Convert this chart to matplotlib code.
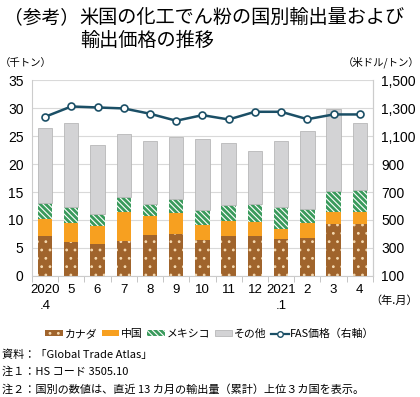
import matplotlib
matplotlib.use("Agg")
import matplotlib.pyplot as plt
import numpy as np
from matplotlib.ticker import FuncFormatter, MultipleLocator
from matplotlib.patches import Patch
from matplotlib.lines import Line2D

plt.rcParams['font.family'] = ['Noto Sans CJK JP', 'DejaVu Sans']
plt.rcParams['hatch.linewidth'] = 0.8

# data (thousand tonnes, USD/tonne)
months = ["2020\n.4", "5", "6", "7", "8", "9", "10", "11", "12", "2021\n.1", "2", "3", "4"]
canada = [7.1, 6.0, 5.7, 6.25, 7.4, 7.55, 6.4, 7.1, 7.1, 6.6, 6.8, 9.2, 9.3]
china = [3.1, 3.5, 3.2, 5.15, 3.25, 3.7, 2.65, 2.8, 2.5, 1.85, 2.7, 2.3, 2.2]
mexico = [2.8, 2.8, 2.2, 2.8, 2.25, 2.55, 2.65, 2.7, 3.3, 3.95, 2.5, 3.6, 3.9]
other = [13.5, 15.1, 12.3, 11.2, 11.2, 11.0, 12.7, 11.1, 9.4, 11.7, 13.9, 14.8, 12.0]
fas_price = [1238, 1312, 1305, 1298, 1260, 1210, 1250, 1219, 1274, 1274, 1221, 1255, 1255]

brown = "#a0642c"
orange = "#f7a020"
green = "#3a9a5c"
grey = "#d3d3d5"
line_col = "#1b4f66"
num_font = ['Liberation Sans', 'Noto Sans CJK JP']

fig = plt.figure(figsize=(4.2, 3.97), dpi=100)
ax = fig.add_axes([0.076, 0.305, 0.812, 0.493])

x = np.arange(len(months))
w = 0.55
b1 = np.array(canada)
b2 = b1 + np.array(china)
b3 = b2 + np.array(mexico)

ax.bar(x, canada, w, color=brown, edgecolor="#f5d9b0", linewidth=0, hatch="..", zorder=2)
ax.bar(x, china, w, bottom=b1, color=orange, linewidth=0, zorder=2)
ax.bar(x, mexico, w, bottom=b2, color=green, edgecolor="white", linewidth=0, hatch="\\\\\\\\\\\\", zorder=2)
ax.bar(x, other, w, bottom=b3, color=grey, edgecolor="#b8b8b8", linewidth=0.6, zorder=2)

ax.set_ylim(0, 35)
ax.set_xlim(-0.5, len(months) - 0.5)
ax.yaxis.set_major_locator(MultipleLocator(5))
ax.grid(axis="y", color="#d9d9d9", lw=0.8, zorder=0)
ax.set_axisbelow(True)
ax.set_xticks(x)
ax.set_xticklabels(months, fontsize=9.5, linespacing=1.4, va="top", family=num_font)
ax.set_xticks(np.arange(-0.5, len(months), 1), minor=True)
ax.tick_params(axis="x", which="major", length=0, pad=6)
ax.tick_params(axis="x", which="minor", length=4, color="#bbbbbb")
ax.tick_params(axis="y", length=0, labelsize=10, pad=6)
for t in ax.get_yticklabels():
    t.set_family(num_font)
ax.spines["top"].set_visible(False)
for s in ["left", "right", "bottom"]:
    ax.spines[s].set_color("#cccccc")

ax2 = ax.twinx()
ax2.plot(x, fas_price, color=line_col, lw=1.8, marker="o", ms=5,
         markerfacecolor="white", markeredgecolor=line_col, markeredgewidth=1.2, zorder=5)
ax2.set_ylim(100, 1500)
ax2.set_yticks(np.arange(100, 1501, 200))
ax2.yaxis.set_major_formatter(FuncFormatter(lambda v, p: f"{int(v):,}"))
ax2.tick_params(axis="y", length=0, labelsize=10, pad=6)
for t in ax2.get_yticklabels():
    t.set_family(num_font)
for s in ["top", "left", "bottom"]:
    ax2.spines[s].set_visible(False)
ax2.spines["right"].set_color("#cccccc")

# title and unit labels
fig.text(0.01, 0.955, "（参考）", fontsize=13.5, va="center")
fig.text(0.19, 0.955, "米国の化工でん粉の国別輸出量および", fontsize=13.8, va="center")
fig.text(0.19, 0.897, "輸出価格の推移", fontsize=13.8, va="center")
fig.text(0.0, 0.842, "（千トン）", fontsize=7.5, va="center")
fig.text(0.998, 0.842, "（米ドル/トン）", fontsize=7.5, va="center", ha="right")
fig.text(0.995, 0.243, "（年.月）", fontsize=8, va="center", ha="right")

# legend
handles = [
    Patch(facecolor=brown, edgecolor="#f5d9b0", hatch="..", linewidth=0),
    Patch(facecolor=orange, linewidth=0),
    Patch(facecolor=green, edgecolor="white", hatch="\\\\\\\\\\\\", linewidth=0),
    Patch(facecolor=grey, edgecolor="#b8b8b8", linewidth=0.6),
    Line2D([], [], color=line_col, lw=1.6, marker="o", ms=4, markerfacecolor="white"),
]
labels = ["カナダ", "中国", "メキシコ", "その他", "FAS価格（右軸）"]
fig.legend(handles, labels, loc="center", bbox_to_anchor=(0.5, 0.159), ncol=5,
           frameon=False, fontsize=7.8, handlelength=1.6, handleheight=0.5,
           handletextpad=0.15, columnspacing=0.45)

# notes
fig.text(0.005, 0.106, "資料：「Global Trade Atlas」", fontsize=8, va="center")
fig.text(0.005, 0.063, "注１：HS コード 3505.10", fontsize=8, va="center")
fig.text(0.005, 0.020, "注２：国別の数値は、直近 13 カ月の輸出量（累計）上位３カ国を表示。", fontsize=8, va="center")

fig.savefig("out.png", dpi=100)
